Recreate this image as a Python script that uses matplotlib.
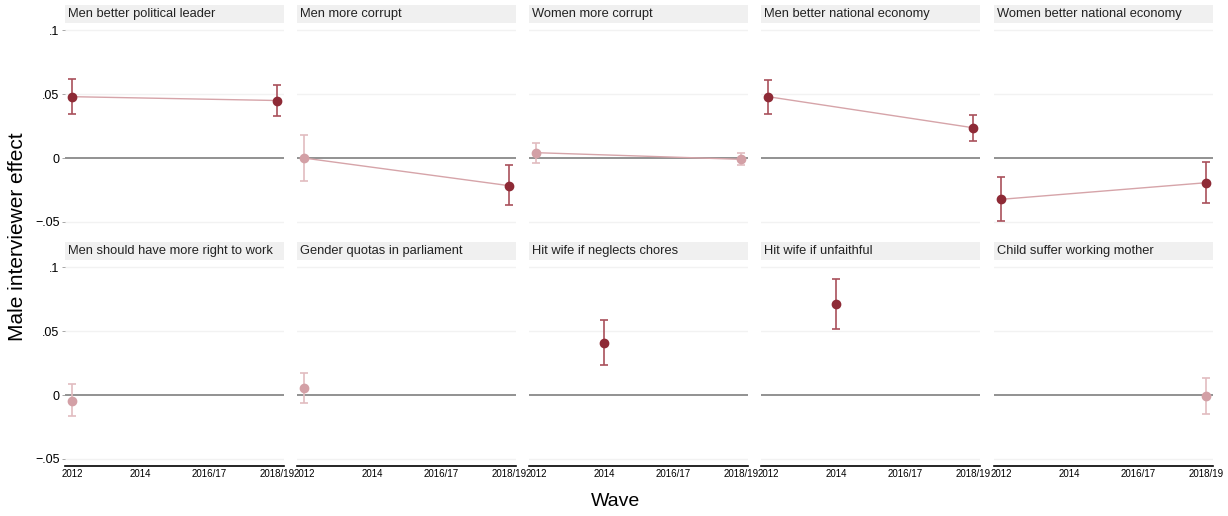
import numpy as np
import matplotlib.pyplot as plt
from matplotlib.patches import Rectangle

plt.rcParams['font.family'] = ['Liberation Sans', 'DejaVu Sans']

nan = np.nan

waves = ["2012", "2014", "2016/17", "2018/19"]
titles = [
    "Men better political leader", "Men more corrupt", "Women more corrupt",
    "Men better national economy", "Women better national economy",
    "Men should have more right to work", "Gender quotas in parliament",
    "Hit wife if neglects chores", "Hit wife if unfaithful",
    "Child suffer working mother",
]

# point estimates per item and wave (nan = item not asked)
est = [
    [0.0480, nan, nan, 0.0450],
    [0.0000, nan, nan, -0.0216],
    [0.0042, nan, nan, -0.0010],
    [0.0480, nan, nan, 0.0237],
    [-0.0323, nan, nan, -0.0193],
    [-0.0045, nan, nan, nan],
    [0.0055, nan, nan, nan],
    [nan, 0.0409, nan, nan],
    [nan, 0.0715, nan, nan],
    [nan, nan, nan, -0.0010],
]
ci_lo = [
    [0.0345, nan, nan, 0.0330],
    [-0.0180, nan, nan, -0.0370],
    [-0.0040, nan, nan, -0.0055],
    [0.0346, nan, nan, 0.0133],
    [-0.0495, nan, nan, -0.0354],
    [-0.0167, nan, nan, nan],
    [-0.0060, nan, nan, nan],
    [nan, 0.0232, nan, nan],
    [nan, 0.0520, nan, nan],
    [nan, nan, nan, -0.0150],
]
ci_hi = [
    [0.0617, nan, nan, 0.0570],
    [0.0180, nan, nan, -0.0057],
    [0.0120, nan, nan, 0.0040],
    [0.0610, nan, nan, 0.0338],
    [-0.0150, nan, nan, -0.0029],
    [0.0083, nan, nan, nan],
    [0.0170, nan, nan, nan],
    [nan, 0.0590, nan, nan],
    [nan, 0.0910, nan, nan],
    [nan, nan, nan, 0.0135],
]

yticks = [-0.05, 0, 0.05, 0.1]
ytick_labels = ["\u2212.05", "0", ".05", ".1"]

dark, dark_bar = "#8e2a36", "#a9505b"
light, light_bar = "#d3a0a6", "#e2bcc0"
line_col = "#d6a4a9"

W, H = 1228, 516
fig = plt.figure(figsize=(W / 100, H / 100), dpi=100)

lefts = [65, 297, 529, 761, 994]
width = 219
tops = [27, 264]
height = 202

x = np.arange(1, len(waves) + 1)

for i, title in enumerate(titles):
    r, c = divmod(i, 5)
    ax = fig.add_axes([lefts[c] / W, 1 - (tops[r] + height) / H, width / W, height / H])
    ax.set_xlim(0.897, 4.102)
    ax.set_ylim(-0.0555, 0.1025)

    for yv in yticks:
        if yv != 0:
            ax.axhline(yv, color="#f2f2f2", lw=1.0, zorder=0)
    ax.axhline(0, color="#7f7f7f", lw=1.2, zorder=1)

    e = np.array(est[i])
    lo = np.array(ci_lo[i])
    hi = np.array(ci_hi[i])
    ok = ~np.isnan(e)
    ax.plot(x[ok], e[ok], color=line_col, lw=1.0, zorder=2)
    for xi, ei, l, h in zip(x[ok], e[ok], lo[ok], hi[ok]):
        sig = l > 0 or h < 0
        ax.errorbar(xi, ei, yerr=[[ei - l], [h - ei]], fmt="none",
                    ecolor=dark_bar if sig else light_bar, elinewidth=1.2,
                    capsize=3, capthick=1.2, zorder=3)
        ax.plot(xi, ei, "o", color=dark if sig else light, ms=6, zorder=4)

    for s in ax.spines.values():
        s.set_visible(False)
    ax.set_yticks(yticks)
    ax.set_xticks(x)
    if c == 0:
        ax.set_yticklabels(ytick_labels, fontsize=9)
        ax.tick_params(axis="y", length=2, width=0.6, color="#999999", pad=2)
    else:
        ax.tick_params(axis="y", length=0, labelleft=False)
    if r == 1:
        ax.spines["bottom"].set_visible(True)
        ax.spines["bottom"].set_linewidth(1.2)
        ax.set_xticklabels(waves, fontsize=7)
        ax.tick_params(axis="x", length=0, pad=2)
    else:
        ax.tick_params(axis="x", length=0, labelbottom=False)

    ax.add_patch(Rectangle((0, 1 + 4 / height), 1, 18 / height, transform=ax.transAxes,
                           facecolor="#f0f0f0", edgecolor="none", clip_on=False))
    ax.text(0.015, 1 + 13 / height, title, transform=ax.transAxes, fontsize=9.3,
            va="center", ha="left", color="#222222")

fig.text(18 / W, 1 - 237 / H, "Male interviewer effect", rotation=90,
         fontsize=15, va="center", ha="center")
fig.text(616 / W, 1 - 502 / H, "Wave", fontsize=14, va="center", ha="center")

fig.savefig("out.png", dpi=100)
